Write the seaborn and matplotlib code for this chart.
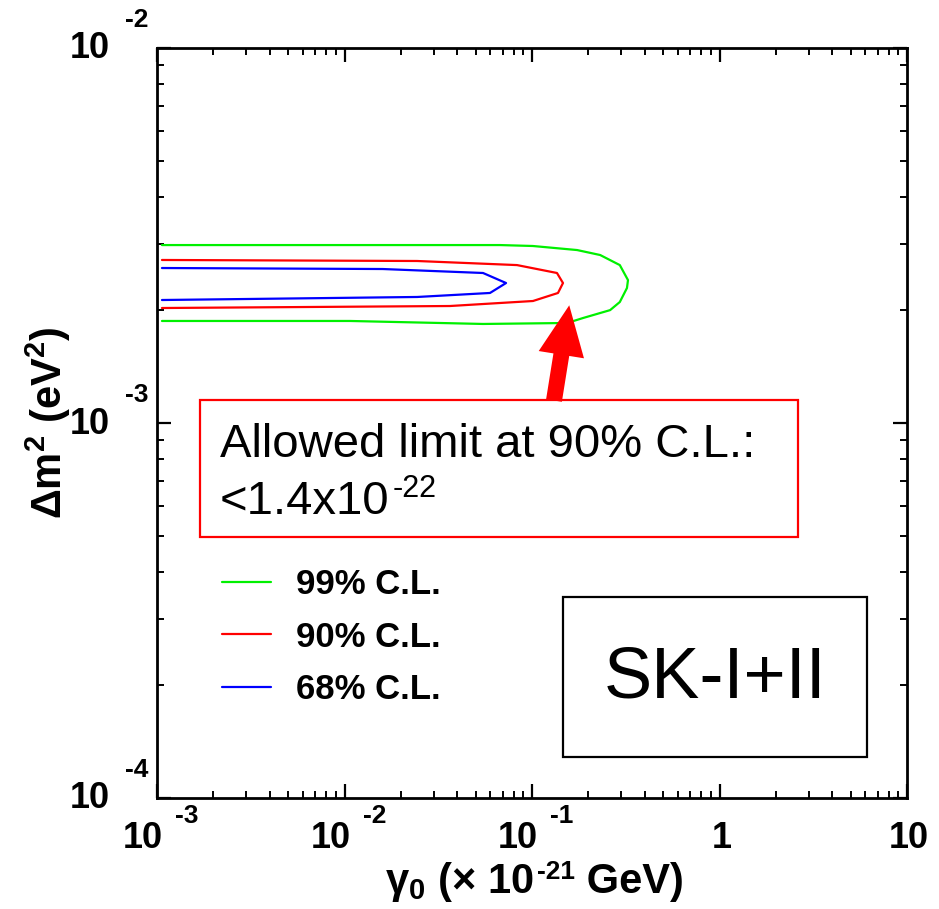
import matplotlib
matplotlib.use("Agg")
import matplotlib.pyplot as plt
import matplotlib.transforms as mtransforms
from matplotlib.patches import Rectangle
from matplotlib.ticker import LogLocator, NullFormatter
import numpy as np
import pandas as pd
import seaborn as sns

# Allowed-region contours in the (gamma0, dm2) plane, per confidence level
gamma_99 = [1.063e-3, 0.0675, 0.101, 0.174, 0.231, 0.294, 0.325, 0.321, 0.294,
            0.261, 0.187, 0.154, 0.0548, 0.0107, 1.063e-3]
dm2_99 = [2.982e-3, 2.982e-3, 2.965e-3, 2.892e-3, 2.805e-3, 2.637e-3, 2.405e-3,
          2.291e-3, 2.102e-3, 2.000e-3, 1.905e-3, 1.848e-3, 1.837e-3, 1.871e-3,
          1.871e-3]

gamma_90 = [1.063e-3, 0.0244, 0.0832, 0.1359, 0.1463, 0.1376, 0.1012, 0.0365,
            1.063e-3]
dm2_90 = [2.721e-3, 2.704e-3, 2.637e-3, 2.512e-3, 2.362e-3, 2.222e-3, 2.115e-3,
          2.051e-3, 2.026e-3]

gamma_68 = [1.063e-3, 0.0160, 0.0548, 0.0727, 0.0597, 0.0244, 1.063e-3]
dm2_68 = [2.590e-3, 2.574e-3, 2.512e-3, 2.362e-3, 2.222e-3, 2.168e-3, 2.128e-3]

levels = ["99% C.L.", "90% C.L.", "68% C.L."]
level_colors = ["#00f000", "#ff0000", "#0000ff"]

# 90% C.L. upper limit on gamma0 and where the arrow points on the contour
limit_gamma = 0.158
limit_dm2 = 2.06e-3
arrow_tail = (0.131, 1.148e-3)

x_ticks = [1e-3, 1e-2, 1e-1, 1, 10]
x_tick_base = ["10", "10", "10", "1", "10"]
x_tick_exp = ["-3", "-2", "-1", "", ""]
y_ticks = [1e-4, 1e-3, 1e-2]
y_tick_base = ["10", "10", "10"]
y_tick_exp = ["-4", "-3", "-2"]

frames = []
for lev, g, d in [(levels[0], gamma_99, dm2_99),
                  (levels[1], gamma_90, dm2_90),
                  (levels[2], gamma_68, dm2_68)]:
    frames.append(pd.DataFrame({"gamma": g, "dm2": d, "level": lev,
                                "step": np.arange(len(g))}))
df = pd.concat(frames, ignore_index=True)

sns.set_theme(style="ticks", rc={"text.color": "black",
                                 "axes.labelcolor": "black",
                                 "xtick.color": "black",
                                 "ytick.color": "black"})
plt.rcParams["font.family"] = ["Liberation Sans", "DejaVu Sans"]

W, H = 939, 909
fig = plt.figure(figsize=(W / 100, H / 100), dpi=100)
ax = fig.add_axes([157 / W, 1 - 798 / H, 750 / W, 750 / H])

sns.lineplot(data=df, x="gamma", y="dm2", hue="level", hue_order=levels,
             palette=level_colors, units="level", estimator=None, sort=False,
             linewidth=1.6, ax=ax, legend=True)

ax.set_xscale("log")
ax.set_yscale("log")
ax.set_xlim(1e-3, 10)
ax.set_ylim(1e-4, 1e-2)
ax.set_xlabel("")
ax.set_ylabel("")

for s in ax.spines.values():
    s.set_linewidth(2.0)
    s.set_color("black")
    s.set_visible(True)

ax.xaxis.set_major_locator(LogLocator(base=10, numticks=10))
ax.xaxis.set_minor_locator(LogLocator(base=10, subs=np.arange(2, 10), numticks=20))
ax.yaxis.set_major_locator(LogLocator(base=10, numticks=10))
ax.yaxis.set_minor_locator(LogLocator(base=10, subs=np.arange(2, 10), numticks=20))
ax.xaxis.set_minor_formatter(NullFormatter())
ax.yaxis.set_minor_formatter(NullFormatter())
ax.tick_params(which="both", direction="in", top=True, right=True,
               labelbottom=False, labelleft=False, color="black")
ax.tick_params(which="major", length=10, width=1.6)
ax.tick_params(which="minor", length=5, width=1.4)

# Tick labels in "10 with raised exponent" style
px = fig.dpi_scale_trans
def off(dx, dy):
    return mtransforms.ScaledTranslation(dx / 100, -dy / 100, px)

xt = ax.get_xaxis_transform()
for v, b, e in zip(x_ticks, x_tick_base, x_tick_exp):
    if e:
        ax.text(v, 0, b, transform=xt + off(6, 40), ha="right", va="center",
                fontsize=26, fontweight="bold")
        ax.text(v, 0, e, transform=xt + off(18, 18), ha="left", va="center",
                fontsize=19, fontweight="bold")
    else:
        ax.text(v, 0, b, transform=xt + off(2, 40), ha="center", va="center",
                fontsize=26, fontweight="bold")

yt = ax.get_yaxis_transform()
for v, b, e in zip(y_ticks, y_tick_base, y_tick_exp):
    ax.text(0, v, b, transform=yt + off(-47, 1), ha="right", va="center",
            fontsize=26, fontweight="bold")
    ax.text(0, v, e, transform=yt + off(-32, -28), ha="left", va="center",
            fontsize=19, fontweight="bold")

# x-axis title, built piece by piece so the exponent keeps a plain hyphen
xl_base = H - 893
t1 = fig.text(385 / W, xl_base / H, r"γ$\mathregular{_0}$ (× 10",
              ha="left", va="baseline", fontsize=30, fontweight="bold")
t2 = plt.annotate("-21", xy=(1, xl_base + 14), xycoords=(t1, "figure pixels"),
                  xytext=(2, 0), textcoords="offset points",
                  ha="left", va="baseline", fontsize=19, fontweight="bold",
                  annotation_clip=False)
plt.annotate(" GeV)", xy=(1, xl_base), xycoords=(t2, "figure pixels"),
             xytext=(0, 0), textcoords="offset points",
             ha="left", va="baseline", fontsize=30, fontweight="bold",
             annotation_clip=False)

# y-axis title
fig.text(62 / W, 1 - 423 / H,
         r"Δm$\mathregular{^2}$ (eV$\mathregular{^2}$)",
         ha="center", va="baseline", rotation=90, rotation_mode="anchor",
         fontsize=30, fontweight="bold")

# Legend
handles, labels = ax.get_legend_handles_labels()
leg = ax.legend(handles, labels, loc="upper left",
                bbox_to_anchor=(0.0867, 0.307), frameon=False,
                borderpad=0, borderaxespad=0, handlelength=1.4,
                handletextpad=0.72, labelspacing=0.57,
                prop={"size": 25, "weight": "bold"})
for line in leg.get_lines():
    line.set_linewidth(1.6)

# Limit annotation box and arrow
ax.add_patch(Rectangle((43 / 750, 261 / 750), 598 / 750, 137 / 750,
                       transform=ax.transAxes, fill=False, edgecolor="red",
                       linewidth=1.6, zorder=4))
ax.text(63 / 750, 341 / 750, "Allowed limit at 90% C.L.:",
        transform=ax.transAxes, ha="left", va="baseline", fontsize=34)
line2_base = 284 / 750
t3 = ax.text(63 / 750, line2_base, "<1.4x10",
             transform=ax.transAxes, ha="left", va="baseline", fontsize=34)
ax.annotate("-22", xy=(1, line2_base + 17 / 750), xycoords=(t3, "axes fraction"),
            xytext=(2, 0), textcoords="offset points",
            ha="left", va="baseline", fontsize=22)
ax.annotate("", xy=(limit_gamma, limit_dm2), xytext=arrow_tail,
            arrowprops=dict(arrowstyle="simple,head_length=3.6,head_width=3.3,tail_width=1.15",
                            mutation_scale=10, color="red", shrinkA=0, shrinkB=0,
                            linewidth=0),
            zorder=5)

# Data-set label box
ax.add_patch(Rectangle((406 / 750, 41 / 750), 304 / 750, 160 / 750,
                       transform=ax.transAxes, fill=False, edgecolor="black",
                       linewidth=1.6, zorder=4))
ax.text(558 / 750, 118.5 / 750, "SK-I+II", transform=ax.transAxes,
        ha="center", va="center", fontsize=52)

fig.savefig("out.png", dpi=100, facecolor="white")
